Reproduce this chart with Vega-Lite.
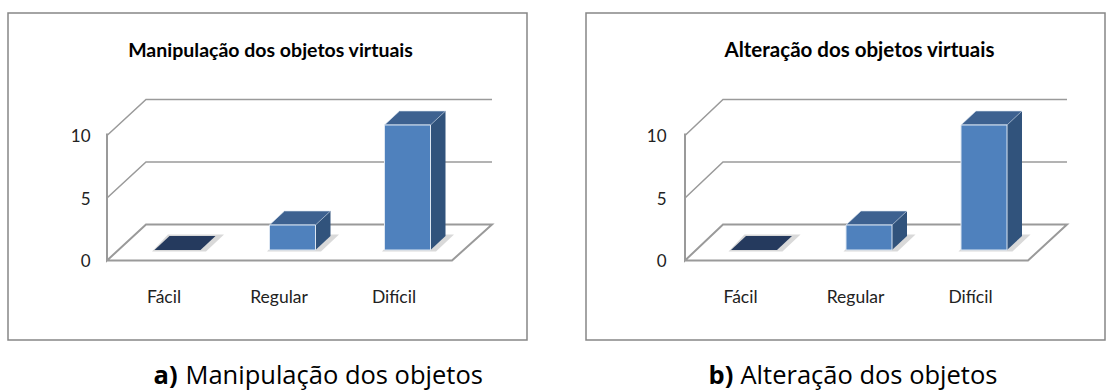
{
"$schema":"https://vega.github.io/schema/vega-lite/v6.json",
"padding":{"left":7,"top":12,"right":0,"bottom":0},
"background":"white",
"spacing":57,
"config":{"view":{"stroke":"#868686","strokeWidth":1.5},"font":"Lato"},
"datasets":{
"a":[{"categoria":"Fácil","valor":0},{"categoria":"Regular","valor":2},{"categoria":"Difícil","valor":10}],
"b":[{"categoria":"Fácil","valor":0},{"categoria":"Regular","valor":2},{"categoria":"Difícil","valor":10}],
"grid":[{"v":5},{"v":10}]
},
"hconcat":[
{"width":519,"height":327,
"title":{"text":"Manipulação dos objetos virtuais","font":"Lato","fontSize":19.5,"fontWeight":"bold","color":"#000","anchor":"middle","dx":3,"offset":-48},
"encoding":{
"x":{"field":"categoria","type":"nominal","sort":null,"scale":{"domain":["Fácil","Regular","Difícil"],"range":[98.5,443.5],"paddingInner":0,"paddingOuter":0},"axis":{"orient":"bottom","offset":-52,"title":"Manipulação dos objetos","titleFont":"Open Sans","titleFontSize":25.5,"titleFontWeight":"normal","titleColor":"#000","titleAlign":"left","titleBaseline":"middle","titleX":177,"titleY":87,"domain":false,"ticks":false,"labelPadding":0,"labelAngle":0,"labelFontSize":17.5,"labelColor":"#222","labelFont":"Lato","grid":false}},
"y":{"field":"valor","type":"quantitative","scale":{"domain":[-6.36,19.8],"nice":false,"zero":false},"axis":{"orient":"left","offset":-82,"values":[0,5,10],"title":"a)","titleFont":"Open Sans","titleFontSize":25.5,"titleFontWeight":"bold","titleColor":"#000","titleAngle":0,"titleAlign":"left","titleBaseline":"middle","titleX":63,"titleY":362,"domain":false,"ticks":false,"labelPadding":0,"labelOffset":1,"labelFontSize":17,"labelColor":"#222","labelFont":"Lato","grid":false}}
},
"layer":[
{"data":{"name":"grid"},"mark":{"type":"point","shape":"M0,0L39,-36L385,-36","size":4,"filled":false,"opacity":1,"stroke":"#9a9a9a","strokeWidth":1.5,"xOffset":-57},"encoding":{"x":{"datum":"Fácil"},"y":{"field":"v","type":"quantitative"}}},
{"data":{"values":[{"v":0}]},"mark":{"type":"point","shape":"M0,-127L0,0L39,-36L385,-36L345,0L0,0","size":4,"filled":false,"opacity":1,"stroke":"#9a9a9a","strokeWidth":2,"xOffset":-57},"encoding":{"x":{"datum":"Fácil"},"y":{"field":"v","type":"quantitative"}}},
{"data":{"name":"a"},"mark":{"type":"point","shape":"M-12,-9L42,-9L60,-26L4,-26Z","size":4,"filled":true,"opacity":1,"fill":"#d9d9d9","stroke":null},"encoding":{"y":{"datum":0}}},
{"data":{"name":"a"},"transform":[{"filter":"datum.valor>0"}],"mark":{"type":"bar","size":46,"color":"#31537c","xOffset":28.5,"yOffset":-24.5}},
{"data":{"name":"a"},"transform":[{"filter":"datum.valor>0"}],"mark":{"type":"point","shape":"M36.5,-10.5L51.5,-24.5L36.5,-24.5Z","size":4,"filled":true,"opacity":1,"fill":"#31537c","stroke":null},"encoding":{"y":{"datum":0}}},
{"data":{"name":"a"},"transform":[{"filter":"datum.valor>0"}],"mark":{"type":"point","shape":"M-9.5,-10.5L36.5,-10.5L51.5,-24.5L5.5,-24.5Z","size":4,"filled":true,"opacity":1,"fill":"#3d6190","stroke":"#dce6f2","strokeWidth":0.6}},
{"data":{"name":"a"},"transform":[{"filter":"datum.valor==0"}],"mark":{"type":"point","shape":"M-9.5,-10.5L36.5,-10.5L51.5,-24.5L5.5,-24.5Z","size":4,"filled":true,"opacity":1,"fill":"#253a5e","stroke":null}},
{"data":{"name":"a"},"transform":[{"filter":"datum.valor>0"}],"mark":{"type":"bar","size":46,"color":"#4f81bd","stroke":"#dce6f2","strokeWidth":1,"xOffset":13.5,"yOffset":-10.5}}
]},
{"width":519,"height":327,
"title":{"text":"Alteração dos objetos virtuais","font":"Lato","fontSize":20.5,"fontWeight":"bold","color":"#000","anchor":"middle","dx":14,"offset":-48},
"encoding":{
"x":{"field":"categoria","type":"nominal","sort":null,"scale":{"domain":["Fácil","Regular","Difícil"],"range":[97,442],"paddingInner":0,"paddingOuter":0},"axis":{"orient":"bottom","offset":-52,"title":"Alteração dos objetos","titleFont":"Open Sans","titleFontSize":25.5,"titleFontWeight":"normal","titleColor":"#000","titleAlign":"left","titleBaseline":"middle","titleX":154,"titleY":87,"domain":false,"ticks":false,"labelPadding":0,"labelAngle":0,"labelFontSize":17.5,"labelColor":"#222","labelFont":"Lato","grid":false}},
"y":{"field":"valor","type":"quantitative","scale":{"domain":[-6.36,19.8],"nice":false,"zero":false},"axis":{"orient":"left","offset":-80,"values":[0,5,10],"title":"b)","titleFont":"Open Sans","titleFontSize":25.5,"titleFontWeight":"bold","titleColor":"#000","titleAngle":0,"titleAlign":"left","titleBaseline":"middle","titleX":42,"titleY":362,"domain":false,"ticks":false,"labelPadding":0,"labelOffset":1,"labelFontSize":17,"labelColor":"#222","labelFont":"Lato","grid":false}}
},
"layer":[
{"data":{"name":"grid"},"mark":{"type":"point","shape":"M0,0L38,-36L382,-36","size":4,"filled":false,"opacity":1,"stroke":"#9a9a9a","strokeWidth":1.5,"xOffset":-55.5},"encoding":{"x":{"datum":"Fácil"},"y":{"field":"v","type":"quantitative"}}},
{"data":{"values":[{"v":0}]},"mark":{"type":"point","shape":"M0,-127L0,0L38,-36L382,-36L343,0L0,0","size":4,"filled":false,"opacity":1,"stroke":"#9a9a9a","strokeWidth":2,"xOffset":-55.5},"encoding":{"x":{"datum":"Fácil"},"y":{"field":"v","type":"quantitative"}}},
{"data":{"name":"b"},"mark":{"type":"point","shape":"M-12,-9L42,-9L60,-26L4,-26Z","size":4,"filled":true,"opacity":1,"fill":"#d9d9d9","stroke":null},"encoding":{"y":{"datum":0}}},
{"data":{"name":"b"},"transform":[{"filter":"datum.valor>0"}],"mark":{"type":"bar","size":46,"color":"#31537c","xOffset":28.5,"yOffset":-24.5}},
{"data":{"name":"b"},"transform":[{"filter":"datum.valor>0"}],"mark":{"type":"point","shape":"M36.5,-10.5L51.5,-24.5L36.5,-24.5Z","size":4,"filled":true,"opacity":1,"fill":"#31537c","stroke":null},"encoding":{"y":{"datum":0}}},
{"data":{"name":"b"},"transform":[{"filter":"datum.valor>0"}],"mark":{"type":"point","shape":"M-9.5,-10.5L36.5,-10.5L51.5,-24.5L5.5,-24.5Z","size":4,"filled":true,"opacity":1,"fill":"#3d6190","stroke":"#dce6f2","strokeWidth":0.6}},
{"data":{"name":"b"},"transform":[{"filter":"datum.valor==0"}],"mark":{"type":"point","shape":"M-9.5,-10.5L36.5,-10.5L51.5,-24.5L5.5,-24.5Z","size":4,"filled":true,"opacity":1,"fill":"#253a5e","stroke":null}},
{"data":{"name":"b"},"transform":[{"filter":"datum.valor>0"}],"mark":{"type":"bar","size":46,"color":"#4f81bd","stroke":"#dce6f2","strokeWidth":1,"xOffset":13.5,"yOffset":-10.5}}
]}
]
}
